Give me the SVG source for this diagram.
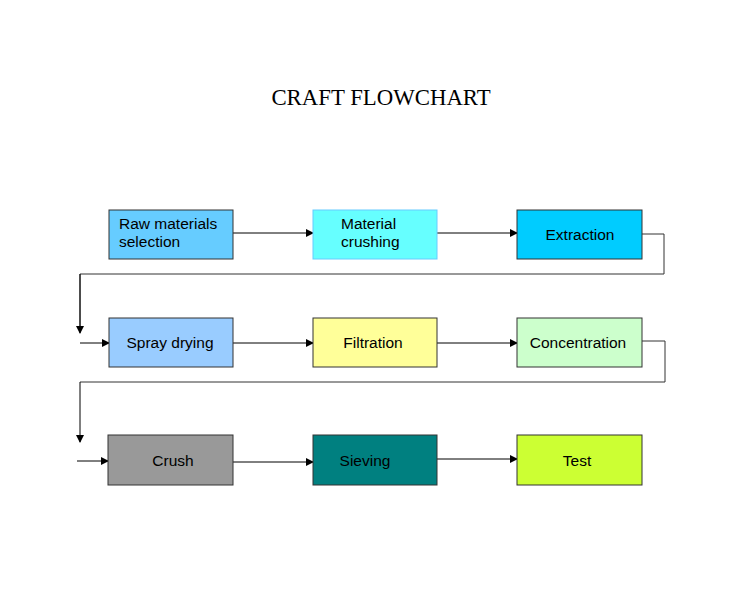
<svg xmlns="http://www.w3.org/2000/svg" width="750" height="612" viewBox="0 0 750 612">
<defs>
<marker id="ah" markerWidth="8" markerHeight="8" refX="7" refY="4" orient="auto" markerUnits="userSpaceOnUse"><path d="M0,0 L8,4 L0,8 Z" fill="#000"/></marker>
<style>
.box{stroke:#333;stroke-width:1}
.t{font-family:"Liberation Sans",Arial,sans-serif;font-size:15.5px;fill:#000}
.c{text-anchor:middle}
.ln{fill:none;stroke:#333;stroke-width:1}
.ar{fill:none;stroke:#000;stroke-width:1;marker-end:url(#ah)}
</style>
</defs>
<rect width="750" height="612" fill="#fff"/>
<text x="381" y="105" text-anchor="middle" font-family="Liberation Serif,serif" font-size="22.8">CRAFT FLOWCHART</text>
<g id="connectors">
<line class="ar" x1="233" y1="233" x2="313" y2="233"/>
<line class="ar" x1="437" y1="233" x2="517" y2="233"/>
<polyline class="ln" points="642,234 664,234 664,274 80,274 80,326"/>
<line class="ar" x1="80" y1="274" x2="80" y2="333"/>
<line class="ar" x1="80" y1="343" x2="109" y2="343"/>
<line class="ar" x1="233" y1="343" x2="313" y2="343"/>
<line class="ar" x1="437" y1="343" x2="517" y2="343"/>
<polyline class="ln" points="642,341 665,341 665,382 80,382"/>
<line class="ar" x1="80" y1="382" x2="80" y2="442"/>
<line class="ar" x1="77" y1="461" x2="108" y2="461"/>
<line class="ar" x1="233" y1="462" x2="313" y2="462"/>
<line class="ar" x1="437" y1="459" x2="517" y2="459"/>
</g>
<g id="raw"><rect class="box" x="109" y="210" width="124" height="49" fill="#66CCFF"/><text class="t" x="119" y="229">Raw materials</text><text class="t" x="119" y="247">selection</text></g>
<g id="crushing"><rect x="313" y="210" width="124" height="49" fill="#66FFFF" stroke="#66CCFF"/><text class="t" x="341" y="229">Material</text><text class="t" x="341" y="247">crushing</text></g>
<g id="extraction"><rect class="box" x="517" y="210" width="125" height="49" fill="#00CCFF"/><text class="t c" x="580" y="240">Extraction</text></g>
<g id="spray"><rect class="box" x="109" y="318" width="124" height="49" fill="#99CCFF"/><text class="t c" x="170" y="348">Spray drying</text></g>
<g id="filtration"><rect class="box" x="313" y="318" width="124" height="49" fill="#FFFF99"/><text class="t c" x="373" y="348">Filtration</text></g>
<g id="concentration"><rect class="box" x="517" y="318" width="125" height="49" fill="#CCFFCC"/><text class="t c" x="578" y="348">Concentration</text></g>
<g id="crush"><rect class="box" x="108" y="435" width="125" height="50" fill="#999999"/><text class="t c" x="173" y="466">Crush</text></g>
<g id="sieving"><rect class="box" x="313" y="435" width="124" height="50" fill="#008080"/><text class="t c" x="365" y="466">Sieving</text></g>
<g id="test"><rect class="box" x="517" y="435" width="125" height="50" fill="#CCFF33"/><text class="t c" x="577" y="466">Test</text></g>
</svg>
